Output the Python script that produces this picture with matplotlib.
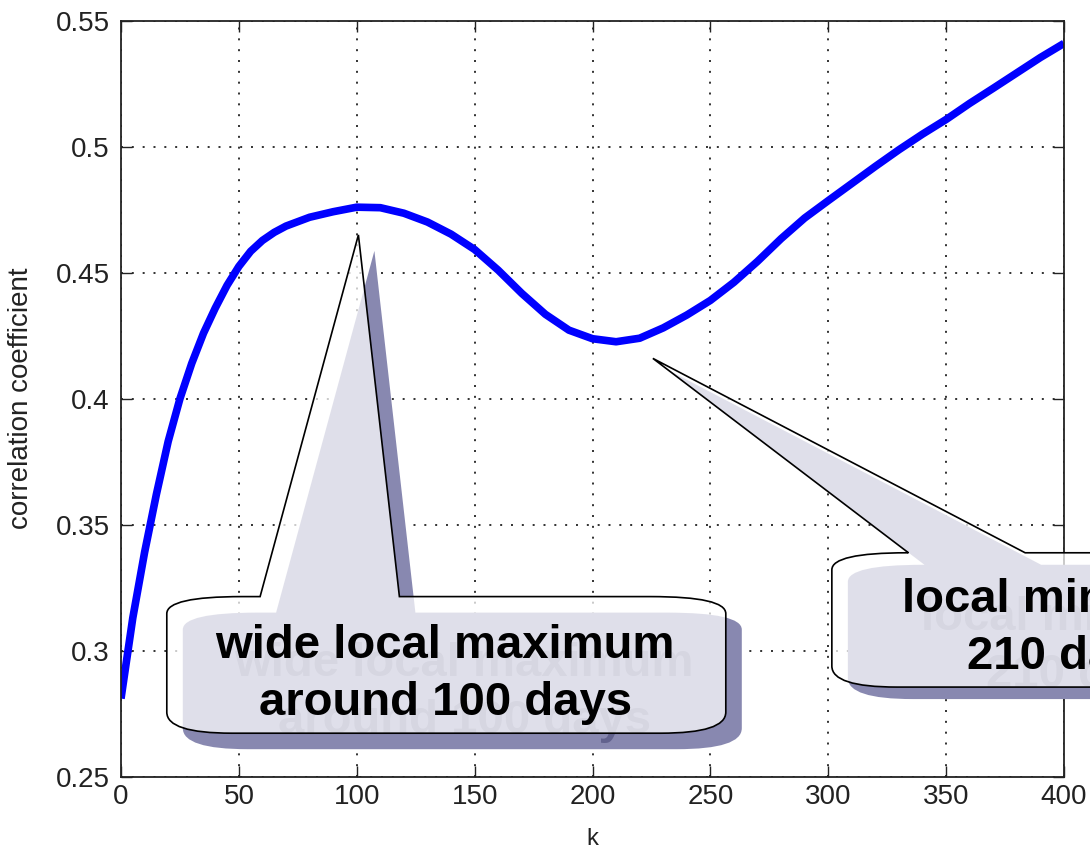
"""
Correlation coefficient against lag k, with two callouts marking the
wide local maximum and the local minimum of the curve.
"""

import matplotlib.pyplot as plt
from matplotlib.path import Path
from matplotlib.patches import PathPatch
from matplotlib.transforms import IdentityTransform

plt.rcParams['font.family'] = ['Liberation Sans', 'DejaVu Sans']

# lag in days and the correlation coefficient at that lag
k = [0, 5, 10, 15, 20, 25, 30, 35, 40, 45, 50, 55, 60, 65, 70, 80, 90, 100,
     110, 120, 130, 140, 150, 160, 170, 180, 190, 200, 210, 220, 230, 240,
     250, 260, 270, 280, 290, 300, 310, 320, 330, 340, 350, 360, 370, 380,
     390, 400]
corr = [0.281, 0.313, 0.339, 0.362, 0.383, 0.400, 0.414, 0.426, 0.436, 0.445,
        0.4525, 0.4585, 0.4628, 0.466, 0.4685, 0.472, 0.4742, 0.476, 0.4758,
        0.4736, 0.4701, 0.4653, 0.4592, 0.451, 0.4418, 0.4335, 0.4272,
        0.4238, 0.4226, 0.424, 0.4281, 0.4332, 0.439, 0.4462, 0.4545, 0.4635,
        0.4717, 0.4786, 0.4854, 0.4922, 0.4988, 0.505, 0.5108, 0.5172, 0.5232,
        0.5293, 0.5354, 0.541]

x_ticks = [0, 50, 100, 150, 200, 250, 300, 350, 400]
y_ticks = [0.25, 0.3, 0.35, 0.4, 0.45, 0.5, 0.55]
y_tick_labels = ['0.25', '0.3', '0.35', '0.4', '0.45', '0.5', '0.55']

# callout texts and the points they point at (k, corr)
max_lines = ['wide local maximum', 'around 100 days']
max_point = (100.7, 0.465)
min_lines = ['local minimum', '210 days']
min_point = (225.6, 0.416)

SHADOW = '#8888b0'
TEXT_SHADOW = '#62628e'
FRONT = (1, 1, 1, 0.74)


def balloon(x0, y0, body, base, rt=(75, 17), rb=(65, 21)):
    """Rounded box with a wedge pointing at (x0, y0).

    body = (left, right, top, bottom) and base = (b1, b2) are pixel offsets
    from the tip, x to the right and y downwards.
    """
    left, right, top, bottom = body
    b1, b2 = base
    rxt, ryt = rt
    rxb, ryb = rb
    pts = [
        ((left, top + ryt), Path.MOVETO),
        ((left, top), Path.CURVE3), ((left + rxt, top), Path.CURVE3),
        ((b1, top), Path.LINETO),
        ((0, 0), Path.LINETO),
        ((b2, top), Path.LINETO),
        ((right - rxt, top), Path.LINETO),
        ((right, top), Path.CURVE3), ((right, top + ryt), Path.CURVE3),
        ((right, bottom - ryb), Path.LINETO),
        ((right, bottom), Path.CURVE3), ((right - rxb, bottom), Path.CURVE3),
        ((left + rxb, bottom), Path.LINETO),
        ((left, bottom), Path.CURVE3), ((left, bottom - ryb), Path.CURVE3),
        ((left, top + ryt), Path.CLOSEPOLY),
    ]
    verts = [(x0 + dx, y0 - dy) for (dx, dy), _ in pts]
    codes = [c for _, c in pts]
    return Path(verts, codes)


def callout(fig, ax, point, lines, body, base, text_dx, baselines,
            shadow=(16, 16), text_shadow=(19, 18)):
    px = IdentityTransform()
    tx, ty = ax.transData.transform(point)
    sx, sy = shadow

    fig.add_artist(PathPatch(balloon(tx + sx, ty - sy, body, base),
                             facecolor=SHADOW, edgecolor='none',
                             transform=px, zorder=5))
    for line, dy in zip(lines, baselines):
        fig.text(tx + text_dx + text_shadow[0], ty - dy - text_shadow[1], line,
                 transform=px, ha='center', va='baseline', fontsize=34,
                 fontweight='bold', color=TEXT_SHADOW, zorder=5.5)
    fig.add_artist(PathPatch(balloon(tx, ty, body, base),
                             facecolor=FRONT, edgecolor='black', linewidth=1.2,
                             transform=px, zorder=6))
    for line, dy in zip(lines, baselines):
        fig.text(tx + text_dx, ty - dy, line, transform=px,
                 ha='center', va='baseline', fontsize=34,
                 fontweight='bold', color='black', zorder=7)


fig = plt.figure(figsize=(10.9, 8.5), dpi=100)
ax = fig.add_axes([121 / 1090, 73.3 / 850, 943 / 1090, 756 / 850])

ax.plot(k, corr, color='#0000ff', linewidth=5.5,
        solid_capstyle='butt', solid_joinstyle='round')

ax.set_xlim(0, 400)
ax.set_ylim(0.25, 0.55)
ax.set_xticks(x_ticks)
ax.set_yticks(y_ticks)
ax.set_yticklabels(y_tick_labels)
ax.grid(True, color='#222222', linewidth=1.3, linestyle=(0, (1.1, 4.9)))
ax.tick_params(direction='in', length=8, width=1, top=True, right=True,
               labelsize=20, colors='#222222')
ax.tick_params(axis='x', pad=5)
ax.tick_params(axis='y', pad=8)
for spine in ax.spines.values():
    spine.set_linewidth(1.3)
    spine.set_color('#222222')

ax.set_xlabel('k', fontsize=17, color='#222222')
ax.xaxis.set_label_coords(0.5, -0.068)
ax.xaxis.label.set_va('top')
ax.set_ylabel('correlation coefficient', fontsize=20, color='#222222')
ax.yaxis.set_label_coords(-0.092, 0.5)

callout(fig, ax, max_point, max_lines,
        body=(-191.6, 367.4, 361.7, 498.3), base=(-98.3, 41.0),
        text_dx=86.7, baselines=(423.3, 480.0))
callout(fig, ax, min_point, min_lines,
        body=(179.0, 649.0, 194.4, 328.7), base=(255.6, 372.3),
        text_dx=414.0, baselines=(254.0, 311.0), shadow=(16, 12))

fig.savefig('out.png', dpi=100)
